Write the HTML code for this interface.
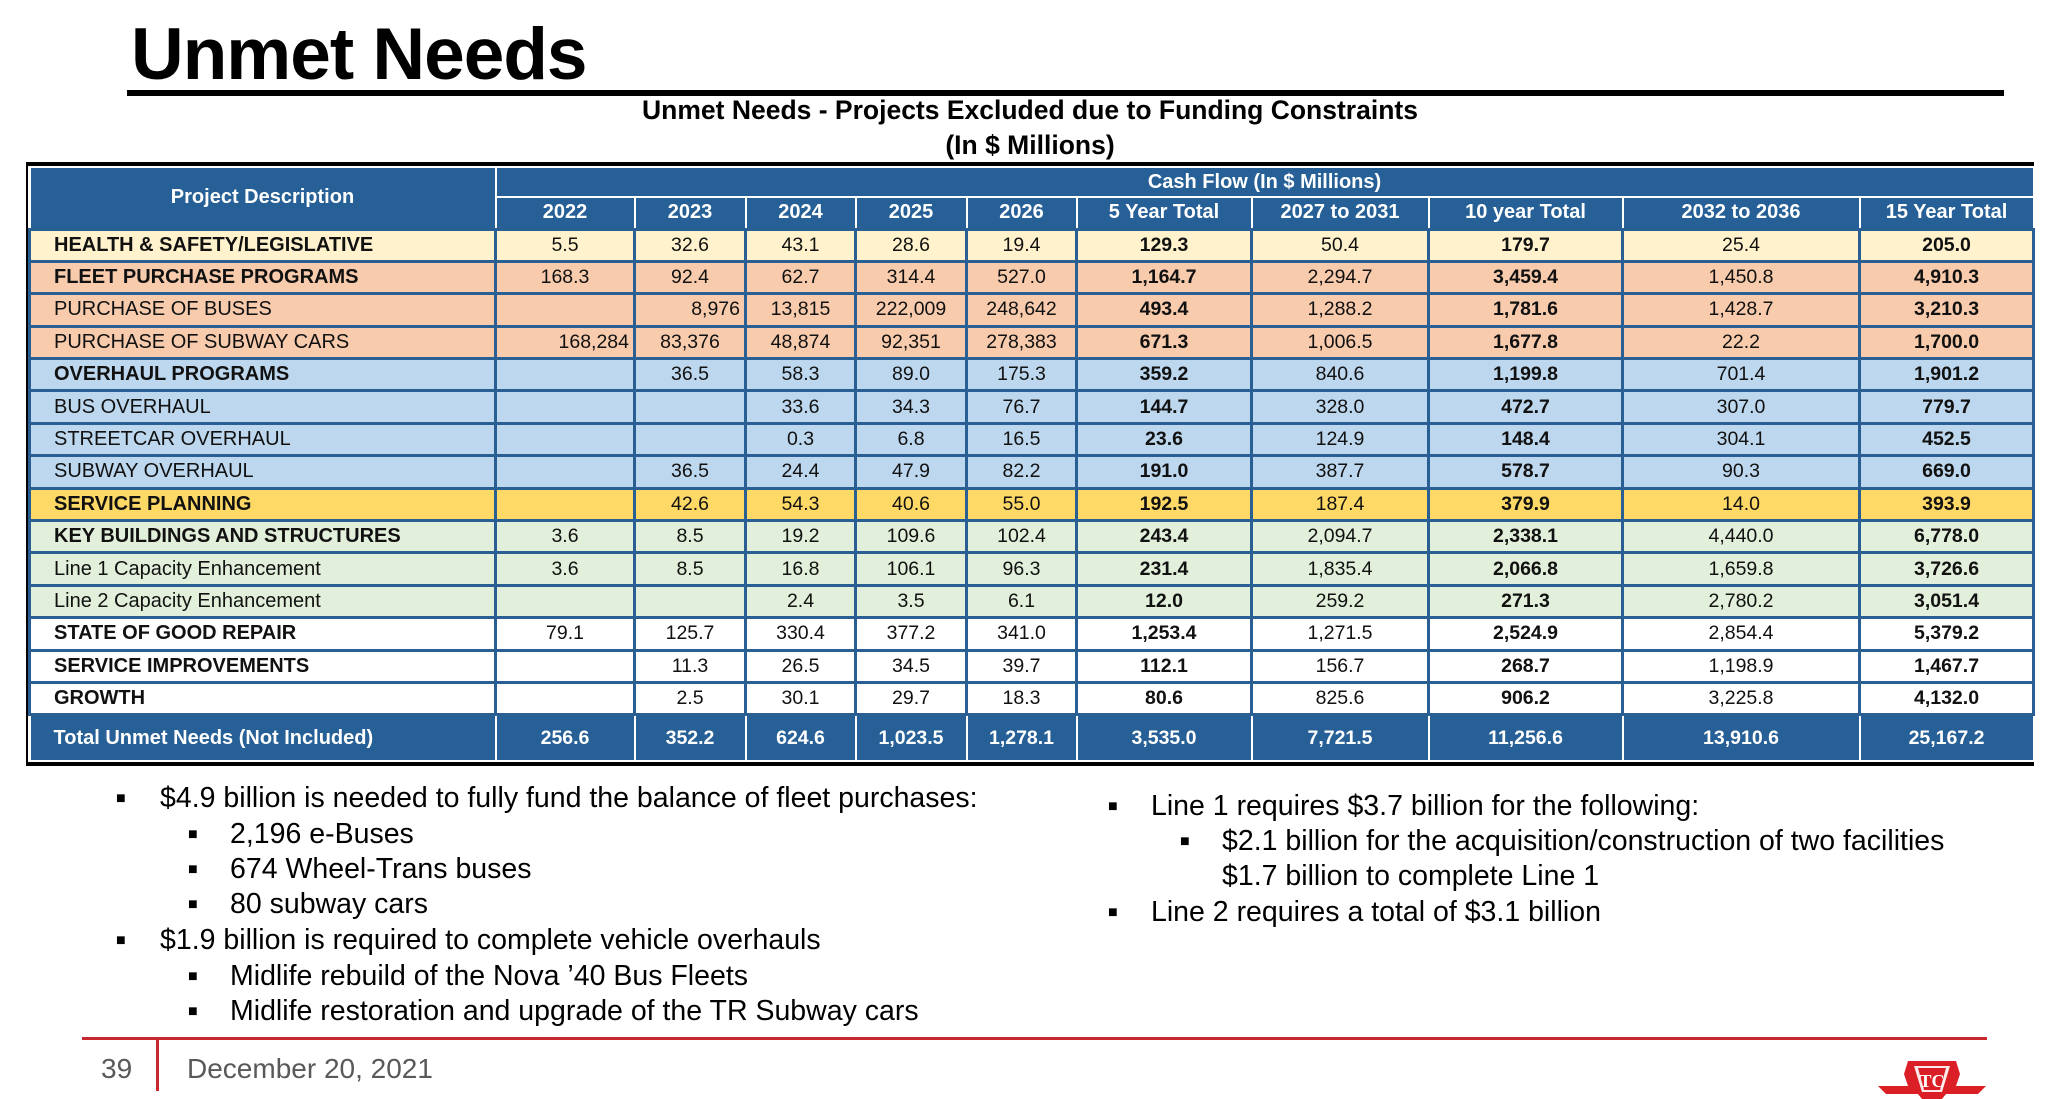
<!DOCTYPE html>
<html><head><meta charset="utf-8"><style>
*{margin:0;padding:0;box-sizing:border-box}
body{width:2053px;height:1099px;background:#fff;position:relative;overflow:hidden;font-family:"Liberation Sans",Arial,sans-serif}
.abs{position:absolute;white-space:nowrap}
#title{left:131px;top:13px;font-size:73px;font-weight:bold;letter-spacing:-1px;color:#000}
#rule{left:127px;top:90px;width:1877px;height:6px;background:#000}
.sub{left:0;width:2060px;text-align:center;font-weight:bold;font-size:26.5px;color:#000}
#tw{position:absolute;left:26px;top:162px;width:2008px;border-top:4px solid #000;border-bottom:4px solid #000;border-left:2px solid #000;border-right:2px solid #000}
table{border-collapse:collapse;table-layout:fixed;width:100%;font-size:19.5px}
td{border:3px solid #2a5f94;text-align:center;padding:0;overflow:hidden;white-space:nowrap;color:#111}
td.d{text-align:left;padding-left:23px;font-size:20px}
tr.h td{background:#266096;color:#fff;font-weight:bold;border-color:#fff;border-width:2px;font-size:20px}
tr.t td{background:#266096;color:#fff;font-weight:bold;border-color:#fff;border-width:2px}
td.b{font-weight:bold}
.r1 td{background:#fff2cc}.r2 td{background:#f8cbad}.r3 td{background:#bdd7ee}.r4 td{background:#ffd966}.r5 td{background:#e2efda}.r6 td{background:#fff}
tr.x td{height:32.4px}
.bl{font-size:28.5px;color:#000}
.m{font-size:16px;position:relative;top:-4px}
</style></head><body>
<div class="abs" id="title">Unmet Needs</div>
<div class="abs" id="rule"></div>
<div class="abs sub" style="top:95px">Unmet Needs - Projects Excluded due to Funding Constraints</div>
<div class="abs sub" style="top:130px">(In $ Millions)</div>
<div id="tw"><table>
<colgroup><col style="width:466px"><col style="width:139px"><col style="width:111px"><col style="width:110px"><col style="width:111px"><col style="width:110px"><col style="width:175px"><col style="width:177px"><col style="width:194px"><col style="width:237px"><col style="width:174px"></colgroup>
<tr class="h" style="height:30px"><td rowspan="2">Project Description</td><td colspan="10">Cash Flow (In $ Millions)</td></tr>
<tr class="h" style="height:32px"><td>2022</td><td>2023</td><td>2024</td><td>2025</td><td>2026</td><td>5 Year Total</td><td>2027 to 2031</td><td>10 year Total</td><td>2032 to 2036</td><td>15 Year Total</td></tr>
<tr class="x r1"><td class="d b">HEALTH &amp; SAFETY/LEGISLATIVE</td><td>5.5</td><td>32.6</td><td>43.1</td><td>28.6</td><td>19.4</td><td class="b">129.3</td><td>50.4</td><td class="b">179.7</td><td>25.4</td><td class="b">205.0</td></tr>
<tr class="x r2"><td class="d b">FLEET PURCHASE PROGRAMS</td><td>168.3</td><td>92.4</td><td>62.7</td><td>314.4</td><td>527.0</td><td class="b">1,164.7</td><td>2,294.7</td><td class="b">3,459.4</td><td>1,450.8</td><td class="b">4,910.3</td></tr>
<tr class="x r2"><td class="d">PURCHASE OF BUSES</td><td></td><td style="text-align:right;padding-right:4px">8,976</td><td>13,815</td><td>222,009</td><td>248,642</td><td class="b">493.4</td><td>1,288.2</td><td class="b">1,781.6</td><td>1,428.7</td><td class="b">3,210.3</td></tr>
<tr class="x r2"><td class="d">PURCHASE OF SUBWAY CARS</td><td style="text-align:right;padding-right:4px">168,284</td><td>83,376</td><td>48,874</td><td>92,351</td><td>278,383</td><td class="b">671.3</td><td>1,006.5</td><td class="b">1,677.8</td><td>22.2</td><td class="b">1,700.0</td></tr>
<tr class="x r3"><td class="d b">OVERHAUL PROGRAMS</td><td></td><td>36.5</td><td>58.3</td><td>89.0</td><td>175.3</td><td class="b">359.2</td><td>840.6</td><td class="b">1,199.8</td><td>701.4</td><td class="b">1,901.2</td></tr>
<tr class="x r3"><td class="d">BUS OVERHAUL</td><td></td><td></td><td>33.6</td><td>34.3</td><td>76.7</td><td class="b">144.7</td><td>328.0</td><td class="b">472.7</td><td>307.0</td><td class="b">779.7</td></tr>
<tr class="x r3"><td class="d">STREETCAR OVERHAUL</td><td></td><td></td><td>0.3</td><td>6.8</td><td>16.5</td><td class="b">23.6</td><td>124.9</td><td class="b">148.4</td><td>304.1</td><td class="b">452.5</td></tr>
<tr class="x r3"><td class="d">SUBWAY OVERHAUL</td><td></td><td>36.5</td><td>24.4</td><td>47.9</td><td>82.2</td><td class="b">191.0</td><td>387.7</td><td class="b">578.7</td><td>90.3</td><td class="b">669.0</td></tr>
<tr class="x r4"><td class="d b">SERVICE PLANNING</td><td></td><td>42.6</td><td>54.3</td><td>40.6</td><td>55.0</td><td class="b">192.5</td><td>187.4</td><td class="b">379.9</td><td>14.0</td><td class="b">393.9</td></tr>
<tr class="x r5"><td class="d b">KEY BUILDINGS AND STRUCTURES</td><td>3.6</td><td>8.5</td><td>19.2</td><td>109.6</td><td>102.4</td><td class="b">243.4</td><td>2,094.7</td><td class="b">2,338.1</td><td>4,440.0</td><td class="b">6,778.0</td></tr>
<tr class="x r5"><td class="d">Line 1 Capacity Enhancement</td><td>3.6</td><td>8.5</td><td>16.8</td><td>106.1</td><td>96.3</td><td class="b">231.4</td><td>1,835.4</td><td class="b">2,066.8</td><td>1,659.8</td><td class="b">3,726.6</td></tr>
<tr class="x r5"><td class="d">Line 2 Capacity Enhancement</td><td></td><td></td><td>2.4</td><td>3.5</td><td>6.1</td><td class="b">12.0</td><td>259.2</td><td class="b">271.3</td><td>2,780.2</td><td class="b">3,051.4</td></tr>
<tr class="x r6"><td class="d b">STATE OF GOOD REPAIR</td><td>79.1</td><td>125.7</td><td>330.4</td><td>377.2</td><td>341.0</td><td class="b">1,253.4</td><td>1,271.5</td><td class="b">2,524.9</td><td>2,854.4</td><td class="b">5,379.2</td></tr>
<tr class="x r6"><td class="d b">SERVICE IMPROVEMENTS</td><td></td><td>11.3</td><td>26.5</td><td>34.5</td><td>39.7</td><td class="b">112.1</td><td>156.7</td><td class="b">268.7</td><td>1,198.9</td><td class="b">1,467.7</td></tr>
<tr class="x r6"><td class="d b">GROWTH</td><td></td><td>2.5</td><td>30.1</td><td>29.7</td><td>18.3</td><td class="b">80.6</td><td>825.6</td><td class="b">906.2</td><td>3,225.8</td><td class="b">4,132.0</td></tr>
<tr class="t" style="height:46px"><td class="d">Total Unmet Needs (Not Included)</td><td>256.6</td><td>352.2</td><td>624.6</td><td>1,023.5</td><td>1,278.1</td><td>3,535.0</td><td>7,721.5</td><td>11,256.6</td><td>13,910.6</td><td>25,167.2</td></tr>
</table></div>

<div class="abs bl" style="left:116px;top:782px"><span class="m">■</span></div><div class="abs bl" style="left:160px;top:782px">$4.9 billion is needed to fully fund the balance of fleet purchases:</div>
<div class="abs bl" style="left:188px;top:818px"><span class="m">■</span></div><div class="abs bl" style="left:230px;top:818px">2,196 e-Buses</div>
<div class="abs bl" style="left:188px;top:853px"><span class="m">■</span></div><div class="abs bl" style="left:230px;top:853px">674 Wheel-Trans buses</div>
<div class="abs bl" style="left:188px;top:888px"><span class="m">■</span></div><div class="abs bl" style="left:230px;top:888px">80 subway cars</div>
<div class="abs bl" style="left:116px;top:924px"><span class="m">■</span></div><div class="abs bl" style="left:160px;top:924px">$1.9 billion is required to complete vehicle overhauls</div>
<div class="abs bl" style="left:188px;top:960px"><span class="m">■</span></div><div class="abs bl" style="left:230px;top:960px">Midlife rebuild of the Nova ’40 Bus Fleets</div>
<div class="abs bl" style="left:188px;top:995px"><span class="m">■</span></div><div class="abs bl" style="left:230px;top:995px">Midlife restoration and upgrade of the TR Subway cars</div>

<div class="abs bl" style="left:1108px;top:790px"><span class="m">■</span></div><div class="abs bl" style="left:1151px;top:790px">Line 1 requires $3.7 billion for the following:</div>
<div class="abs bl" style="left:1180px;top:825px"><span class="m">■</span></div><div class="abs bl" style="left:1222px;top:825px">$2.1 billion for the acquisition/construction of two facilities</div>
<div class="abs bl" style="left:1222px;top:860px">$1.7 billion to complete Line 1</div>
<div class="abs bl" style="left:1108px;top:896px"><span class="m">■</span></div><div class="abs bl" style="left:1151px;top:896px">Line 2 requires a total of $3.1 billion</div>

<div class="abs" style="left:82px;top:1037px;width:1905px;height:3px;background:#c8282d"></div>
<div class="abs" style="left:156px;top:1038px;width:3px;height:53px;background:#c8282d"></div>
<div class="abs" style="left:101px;top:1053px;font-size:28px;color:#595959">39</div>
<div class="abs" style="left:187px;top:1053px;font-size:28px;color:#595959">December 20, 2021</div>
<svg class="abs" style="left:1878px;top:1058px" width="108" height="41" viewBox="0 0 108 41">
<polygon points="0,28 30,28 26,16 30,3 78,3 82,16 78,28 108,28 100,36 68,36 64,41 44,41 40,36 8,36" fill="#da1f26"/>
<polygon points="36,8 72,8 64,34 44,34" fill="#fff" opacity="0.9"/>
<polygon points="40,10 68,10 62,32 46,32" fill="#da1f26"/>
<text x="54" y="29" font-size="18" fill="#fff" text-anchor="middle" font-family="Liberation Serif,serif" font-weight="bold">TC</text>
</svg>
</body></html>
